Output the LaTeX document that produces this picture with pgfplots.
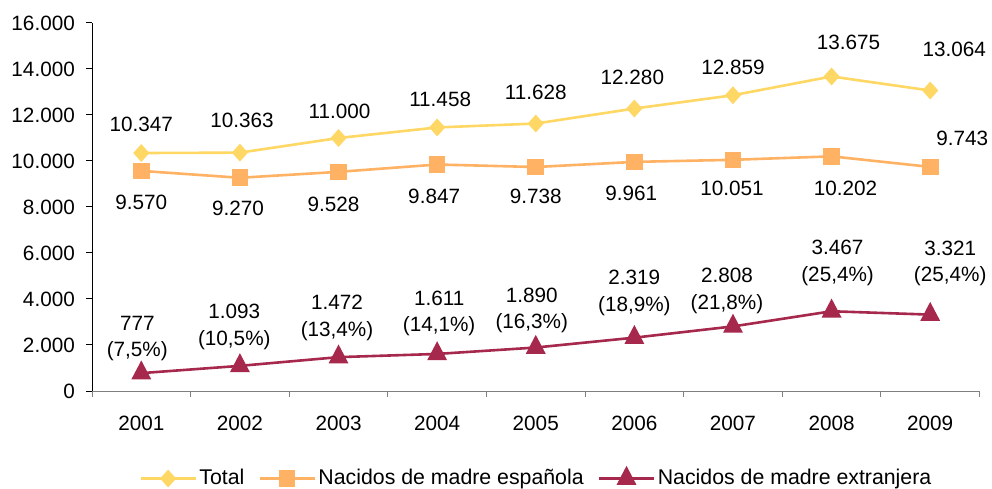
\documentclass[border=0pt]{standalone}
\usepackage{fontspec}
\setmainfont{Liberation Sans}
\usepackage{pgfplots}
\pgfplotsset{compat=1.18}
\usepackage{pgfplotstable}

\definecolor{ctot}{RGB}{255,215,100}
\definecolor{cesp}{RGB}{255,178,100}
\definecolor{cext}{RGB}{166,40,76}
\definecolor{caxis}{RGB}{128,128,128}

\pgfplotstableread{
x y dx dy lbl
0 10347 0 28.3 10.347
1 10363 2 32 10.363
2 11000 1 26.7 11.000
3 11458 3 28 11.458
4 11628 0 31.6 11.628
5 12280 -2 31.6 12.280
6 12859 0 28.3 12.859
7 13675 17 34 13.675
8 13064 24 40.7 13.064
}\tot

\pgfplotstableread{
x y dx dy lbl
0 9570 0 -31 9.570
1 9270 -2 -30.6 9.270
2 9528 -5 -32.3 9.528
3 9847 -3 -31.7 9.847
4 9738 0 -29 9.738
5 9961 -3 -31 9.961
6 10051 -1 -28.4 10.051
7 10202 14 -31.7 10.202
8 9743 32 28.4 9.743
}\esp

\pgfplotstableread{
x y dx dy lbl pct
0 777 -4 34.5 777 7.5
1 1093 -5.6 39 1.093 10.5
2 1472 -1.5 39 1.472 13.4
3 1611 2 40.5 1.611 14.1
4 1890 -4 37 1.890 16.3
5 2319 0 44.6 2.319 18.9
6 2808 -6 35.3 2.808 21.8
7 3467 6 48.5 3.467 25.4
8 3321 20 51.2 3.321 25.4
}\ext

\begin{document}
\fontsize{20.7bp}{26.7bp}\selectfont
\begin{tikzpicture}
\useasboundingbox (0,0) rectangle (992bp,489bp);
\begin{axis}[
  at={(92bp,98bp)}, anchor=south west,
  scale only axis, width=887.5bp, height=368bp,
  xmin=-0.5, xmax=8.5, ymin=0, ymax=16000,
  clip=false,
  scaled y ticks=false, scaled x ticks=false,
  axis lines=left,
  axis line style={-, line width=1bp},
  x axis line style={draw=caxis},
  y axis line style={draw=black},
  tick align=outside,
  major tick length=6bp,
  tick style={line width=1bp},
  xtick={-0.5,0.5,...,8.5},
  xticklabels={,,,,,,,,,,},
  x tick style={draw=caxis},
  extra x ticks={0,1,2,3,4,5,6,7,8},
  extra x tick labels={2001,2002,2003,2004,2005,2006,2007,2008,2009},
  extra x tick style={major tick length=0pt},
  xticklabel style={inner sep=0pt, anchor=north, yshift=-24.5bp},
  ytick={0,2000,4000,6000,8000,10000,12000,14000,16000},
  yticklabels={0,2.000,4.000,6.000,8.000,10.000,12.000,14.000,16.000},
  yticklabel style={inner sep=0pt, anchor=east, xshift=-11bp},
  y tick style={draw=black},
  legend columns=-1,
  legend style={draw=none, fill=none, inner sep=0pt, outer sep=0pt,
    at={(0.0533,-0.237)}, anchor=west,
    font=\fontsize{21.3bp}{25bp}\selectfont,
    nodes={inner sep=0pt},
    /tikz/every odd column/.append style={column sep=2.5bp},
    /tikz/every even column/.append style={column sep=14bp}},
  legend image code/.code={\draw[#1, mark repeat=2, mark phase=2]
     plot coordinates {(0bp,0bp) (27.5bp,0bp) (55bp,0bp)};},
  point meta=explicit symbolic,
  nodes near coords={\pgfplotspointmeta},
  every node near coord/.append style={anchor=center, inner sep=0pt, text=black,
     xshift=\myDX bp, yshift=\myDY bp, align=center},
  visualization depends on={\thisrow{dx}\as\myDX},
  visualization depends on={\thisrow{dy}\as\myDY},
]
\addplot[color=ctot, line width=2.6bp, mark=diamond*,
   mark options={solid, fill=ctot, draw=ctot, mark size=7bp, xscale=1.2}]
   table[x=x,y=y,meta=lbl]{\tot};
\addlegendentry{Total}
\addplot[color=cesp, line width=2.6bp, mark=square*,
   mark options={solid, fill=cesp, draw=cesp, mark size=7bp}]
   table[x=x,y=y,meta=lbl]{\esp};
\addlegendentry{Nacidos de madre española}
\addplot[color=cext, line width=2.6bp, mark=triangle*,
   mark options={solid, fill=cext, draw=cext, mark size=9bp, yscale=1.1},
   visualization depends on={\thisrow{pct}\as\myPct},
   nodes near coords={\pgfplotspointmeta\\(\pgfmathprintnumber[fixed, fixed zerofill, precision=1, use comma, assume math mode=true]{\myPct}\%)}]
   table[x=x,y=y,meta=lbl]{\ext};
\addlegendentry{Nacidos de madre extranjera}
\end{axis}
\end{tikzpicture}
\end{document}
